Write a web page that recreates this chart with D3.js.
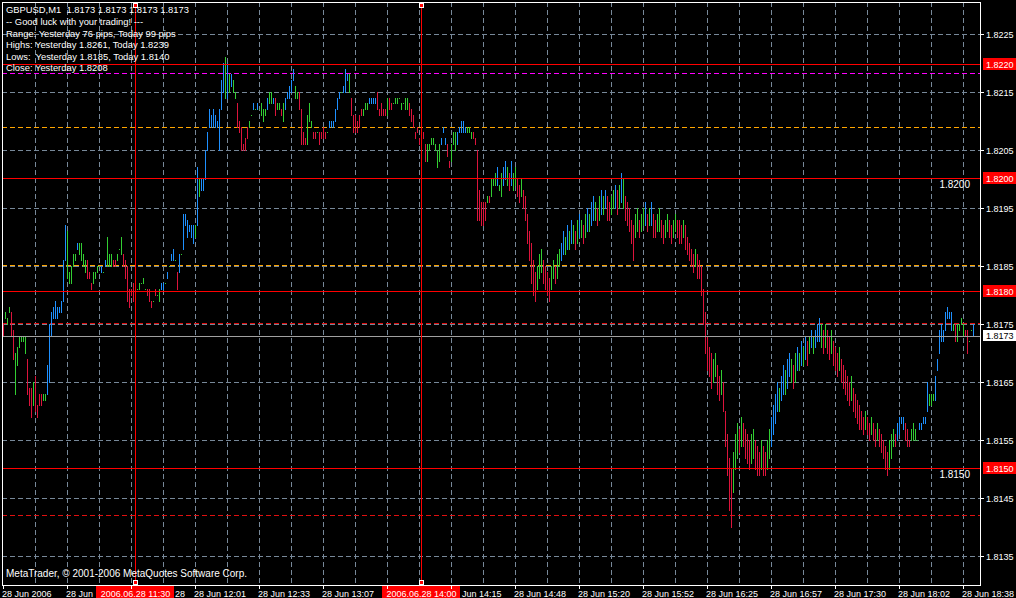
<!DOCTYPE html>
<html><head><meta charset="utf-8">
<script src="https://cdn.jsdelivr.net/npm/d3@7"></script>
<style>html,body{margin:0;padding:0;background:#000;overflow:hidden}svg{display:block}text{white-space:pre}</style>
</head><body>
<svg id="c" width="1016" height="598"></svg>
<script>
// ---------- DATA ----------
const symbolTitle = "GBPUSD,M1  1.8173 1.8173 1.8173 1.8173";
const infoLines = ["-- Good luck with your trading! ---","Range: Yesterday 76 pips, Today 99 pips","Highs: Yesterday 1.8261, Today 1.8239","Lows:  Yesterday 1.8185, Today 1.8140","Close: Yesterday 1.8208"];
const copyright = "MetaTrader, \u00A9 2001-2006 MetaQuotes Software Corp.";
const priceTicks = [1.8135,1.8145,1.8155,1.8165,1.8175,1.8185,1.8195,1.8205,1.8215,1.8225];
const timeTickIndex = [0,32,64,96,128,160,192,224,256,288,320,352,384,416,448,480];
// visible part of each time label (parts hidden by the red date boxes are left out)
const timeTickLabels = ["28 Jun 2006","28 Jun","28","28 Jun 12:01","28 Jun 12:33","28 Jun 13:07","","Jun 14:15","28 Jun 14:48","28 Jun 15:20","28 Jun 15:52","28 Jun 16:25","28 Jun 16:57","28 Jun 17:30","28 Jun 18:02","28 Jun 18:38"];
const timeTickAnchor = ["s","s","e","s","s","s","s","s2","s","s","s","s","s","s","s","s"];
const redLevels = [1.82198,1.82001,1.81807,1.81502];
const redLevelLabels = ["1.8220","1.8200","1.8180","1.8150"];
const redLevelText = [null,"1.8200",null,"1.8150"];
const magentaLevels = [1.82182];
const orangeLevels = [1.8209,1.81851];
const redDashLevels = [1.81751,1.81421];
const bidPrice = 1.8173;
const vLineIndex = [66,209];
const vLineLabels = ["2006.06.28 11:30","2006.06.28 14:00"];

const barHigh = [
1.8175,1.8177,1.8176,1.8178,1.8177,1.8174,1.8170,1.8171,1.8173,1.8173,
1.8173,1.8173,1.8169,1.8164,1.8164,1.8165,1.8166,1.8161,1.8163,1.8163,
1.8163,1.8163,1.8168,1.8175,1.8177,1.8178,1.8179,1.8178,1.8178,1.8179,
1.8186,1.8192,1.8191,1.8184,1.8185,1.8187,1.8187,1.8189,1.8189,1.8189,
1.8187,1.8186,1.8186,1.8184,1.8182,1.8184,1.8184,1.8185,1.8185,1.8185,
1.8184,1.8186,1.8190,1.8187,1.8187,1.8186,1.8186,1.8187,1.8188,1.8190,
1.8187,1.8186,1.8185,1.8181,1.8181,1.8182,1.8183,1.8181,1.8182,1.8182,
1.8183,1.8181,1.8181,1.8181,1.8179,1.8179,1.8181,1.8180,1.8181,1.8182,
1.8182,1.8182,1.8184,1.8185,1.8187,1.8188,1.8186,1.8184,1.8187,1.8187,
1.8194,1.8194,1.8193,1.8192,1.8192,1.8192,1.8192,1.8202,1.8200,1.8200,
1.8200,1.8205,1.8208,1.8212,1.8211,1.8212,1.8211,1.8210,1.8212,1.8217,
1.8220,1.8221,1.8220,1.8218,1.8218,1.8217,1.8215,1.8213,1.8210,1.8209,
1.8206,1.8207,1.8209,1.8210,1.8211,1.8213,1.8212,1.8213,1.8212,1.8213,
1.8212,1.8212,1.8214,1.8215,1.8215,1.8214,1.8214,1.8213,1.8213,1.8212,
1.8213,1.8214,1.8215,1.8216,1.8217,1.8219,1.8216,1.8215,1.8215,1.8212,
1.8208,1.8207,1.8211,1.8213,1.8210,1.8208,1.8208,1.8208,1.8208,1.8208,
1.8209,1.8208,1.8208,1.8210,1.8210,1.8210,1.8212,1.8214,1.8215,1.8215,
1.8216,1.8219,1.8218,1.8218,1.8214,1.8211,1.8211,1.8210,1.8211,1.8212,
1.8212,1.8213,1.8213,1.8214,1.8214,1.8214,1.8214,1.8215,1.8212,1.8213,
1.8212,1.8212,1.8214,1.8214,1.8213,1.8213,1.8214,1.8214,1.8214,1.8213,
1.8213,1.8214,1.8214,1.8213,1.8212,1.8211,1.8208,1.8209,1.8207,1.8208,
1.8208,1.8206,1.8206,1.8206,1.8207,1.8207,1.8206,1.8205,1.8206,1.8207,
1.8209,1.8207,1.8206,1.8203,1.8206,1.8208,1.8208,1.8208,1.8209,1.8210,
1.8210,1.8209,1.8209,1.8209,1.8208,1.8208,1.8207,1.8205,1.8198,1.8196,
1.8196,1.8196,1.8197,1.8197,1.8200,1.8200,1.8201,1.8202,1.8199,1.8201,
1.8202,1.8203,1.8202,1.8201,1.8203,1.8201,1.8202,1.8200,1.8199,1.8200,
1.8198,1.8197,1.8194,1.8191,1.8189,1.8186,1.8184,1.8185,1.8187,1.8188,
1.8186,1.8185,1.8184,1.8183,1.8185,1.8186,1.8185,1.8187,1.8188,1.8189,
1.8191,1.8190,1.8192,1.8191,1.8193,1.8192,1.8191,1.8193,1.8194,1.8193,
1.8192,1.8194,1.8195,1.8194,1.8196,1.8197,1.8196,1.8195,1.8197,1.8198,
1.8197,1.8198,1.8197,1.8196,1.8197,1.8198,1.8199,1.8198,1.8199,1.8201,
1.8200,1.8197,1.8196,1.8195,1.8193,1.8192,1.8194,1.8195,1.8193,1.8194,
1.8195,1.8196,1.8194,1.8195,1.8196,1.8194,1.8193,1.8194,1.8195,1.8193,
1.8192,1.8193,1.8194,1.8193,1.8192,1.8193,1.8194,1.8193,1.8193,1.8192,
1.8193,1.8192,1.8190,1.8189,1.8188,1.8187,1.8188,1.8187,1.8186,1.8185,
1.8181,1.8177,1.8173,1.8171,1.8170,1.8169,1.8170,1.8168,1.8166,1.8167,
1.8165,1.8160,1.8156,1.8152,1.8150,1.8153,1.8156,1.8158,1.8157,1.8159,
1.8158,1.8157,1.8156,1.8155,1.8156,1.8157,1.8155,1.8154,1.8153,1.8155,
1.8154,1.8153,1.8155,1.8157,1.8159,1.8161,1.8163,1.8165,1.8164,1.8166,
1.8168,1.8167,1.8169,1.8170,1.8169,1.8168,1.8170,1.8171,1.8170,1.8172,
1.8171,1.8173,1.8172,1.8173,1.8174,1.8173,1.8174,1.8175,1.8176,1.8175,
1.8174,1.8175,1.8174,1.8173,1.8174,1.8172,1.8171,1.8170,1.8171,1.8169,
1.8168,1.8167,1.8166,1.8165,1.8166,1.8164,1.8163,1.8162,1.8161,1.8160,
1.8159,1.8160,1.8159,1.8158,1.8159,1.8158,1.8157,1.8158,1.8157,1.8156,
1.8155,1.8154,1.8153,1.8155,1.8156,1.8157,1.8156,1.8158,1.8159,1.8159,
1.8159,1.8158,1.8157,1.8155,1.8157,1.8158,1.8157,1.8155,1.8158,1.8158,
1.8159,1.8159,1.8165,1.8163,1.8163,1.8163,1.8166,1.8169,1.8174,1.8175,
1.8174,1.8177,1.8178,1.8177,1.8177,1.8175,1.8175,1.8175,1.8175,1.8176,
1.8175,1.8174,1.8174,1.8172,1.8174,1.8175];

const barLow = [
1.8173,1.8176,1.8175,1.8177,1.8173,1.8169,1.8163,1.8168,1.8171,1.8172,
1.8172,1.8170,1.8163,1.8161,1.8159,1.8161,1.8160,1.8159,1.8161,1.8161,
1.8162,1.8162,1.8163,1.8165,1.8173,1.8176,1.8176,1.8176,1.8177,1.8177,
1.8179,1.8186,1.8183,1.8182,1.8182,1.8185,1.8186,1.8188,1.8187,1.8186,
1.8185,1.8184,1.8183,1.8183,1.8181,1.8182,1.8183,1.8184,1.8185,1.8184,
1.8184,1.8185,1.8185,1.8185,1.8185,1.8185,1.8185,1.8186,1.8188,1.8187,
1.8185,1.8183,1.8179,1.8178,1.8180,1.8179,1.8181,1.8181,1.8181,1.8182,
1.8182,1.8181,1.8180,1.8179,1.8178,1.8179,1.8180,1.8180,1.8179,1.8181,
1.8181,1.8182,1.8183,1.8185,1.8186,1.8186,1.8186,1.8181,1.8184,1.8187,
1.8188,1.8192,1.8190,1.8191,1.8190,1.8189,1.8190,1.8192,1.8197,1.8198,
1.8198,1.8200,1.8205,1.8209,1.8209,1.8209,1.8209,1.8209,1.8205,1.8212,
1.8215,1.8214,1.8214,1.8215,1.8216,1.8215,1.8214,1.8209,1.8208,1.8205,
1.8205,1.8205,1.8207,1.8209,1.8211,1.8212,1.8212,1.8212,1.8212,1.8211,
1.8210,1.8211,1.8212,1.8213,1.8213,1.8213,1.8211,1.8212,1.8212,1.8211,
1.8210,1.8212,1.8214,1.8214,1.8215,1.8217,1.8214,1.8214,1.8212,1.8206,
1.8206,1.8206,1.8206,1.8210,1.8209,1.8207,1.8207,1.8208,1.8206,1.8207,
1.8207,1.8207,1.8208,1.8209,1.8209,1.8209,1.8210,1.8212,1.8214,1.8215,
1.8215,1.8215,1.8217,1.8215,1.8211,1.8208,1.8208,1.8208,1.8209,1.8211,
1.8211,1.8212,1.8212,1.8213,1.8213,1.8213,1.8213,1.8212,1.8211,1.8211,
1.8211,1.8211,1.8211,1.8212,1.8212,1.8213,1.8213,1.8213,1.8214,1.8212,
1.8213,1.8212,1.8212,1.8211,1.8210,1.8209,1.8207,1.8208,1.8206,1.8206,
1.8207,1.8203,1.8203,1.8205,1.8206,1.8206,1.8205,1.8202,1.8203,1.8206,
1.8208,1.8206,1.8204,1.8202,1.8203,1.8206,1.8205,1.8206,1.8208,1.8208,
1.8208,1.8208,1.8208,1.8208,1.8207,1.8207,1.8206,1.8193,1.8193,1.8192,
1.8192,1.8193,1.8196,1.8196,1.8197,1.8199,1.8199,1.8199,1.8198,1.8197,
1.8199,1.8200,1.8199,1.8198,1.8199,1.8198,1.8199,1.8197,1.8196,1.8197,
1.8195,1.8193,1.8189,1.8186,1.8182,1.8180,1.8179,1.8181,1.8183,1.8184,
1.8182,1.8181,1.8180,1.8179,1.8181,1.8183,1.8182,1.8183,1.8185,1.8186,
1.8187,1.8187,1.8188,1.8188,1.8189,1.8189,1.8188,1.8189,1.8190,1.8190,
1.8189,1.8190,1.8191,1.8191,1.8192,1.8193,1.8193,1.8192,1.8193,1.8194,
1.8194,1.8195,1.8193,1.8193,1.8194,1.8195,1.8195,1.8194,1.8195,1.8196,
1.8195,1.8193,1.8192,1.8191,1.8189,1.8186,1.8190,1.8191,1.8190,1.8191,
1.8192,1.8192,1.8191,1.8192,1.8192,1.8190,1.8190,1.8191,1.8191,1.8190,
1.8189,1.8190,1.8191,1.8190,1.8189,1.8190,1.8191,1.8190,1.8189,1.8189,
1.8190,1.8188,1.8187,1.8186,1.8185,1.8184,1.8185,1.8183,1.8183,1.8180,
1.8175,1.8170,1.8167,1.8166,1.8164,1.8165,1.8166,1.8163,1.8162,1.8163,
1.8160,1.8154,1.8149,1.8143,1.8140,1.8146,1.8150,1.8152,1.8153,1.8154,
1.8154,1.8152,1.8151,1.8150,1.8151,1.8152,1.8150,1.8149,1.8149,1.8150,
1.8149,1.8149,1.8150,1.8152,1.8154,1.8156,1.8158,1.8160,1.8160,1.8162,
1.8163,1.8163,1.8164,1.8166,1.8165,1.8164,1.8165,1.8167,1.8167,1.8168,
1.8168,1.8169,1.8168,1.8170,1.8171,1.8170,1.8171,1.8172,1.8172,1.8171,
1.8170,1.8171,1.8170,1.8169,1.8170,1.8168,1.8167,1.8166,1.8167,1.8165,
1.8164,1.8163,1.8162,1.8161,1.8162,1.8160,1.8159,1.8158,1.8157,1.8157,
1.8156,1.8157,1.8156,1.8155,1.8156,1.8155,1.8154,1.8155,1.8154,1.8153,
1.8152,1.8150,1.8149,1.8150,1.8152,1.8154,1.8154,1.8155,1.8156,1.8158,
1.8157,1.8155,1.8154,1.8154,1.8155,1.8155,1.8155,1.8155,1.8157,1.8157,
1.8158,1.8158,1.8160,1.8161,1.8161,1.8162,1.8162,1.8167,1.8170,1.8172,
1.8172,1.8174,1.8176,1.8176,1.8174,1.8174,1.8172,1.8172,1.8174,1.8175,
1.8173,1.8173,1.8170,1.8172,1.8174,1.8173];

// bar colour class per bar: g = up, b = strong up, r = down
const barClass = (
"rgggrrgggg"+"ggrrrgrrrr"+"ggbbbbbbbb"+"bbgggggbgg"+"ggrrrggggb"+
"gbgggrrggg"+"rrrrrrrggg"+"ggrrrgrggb"+"bgbgbbgrbg"+"bbbbbbgbgb"+
"bbbbbbbbbb"+"bgbgbggrrr"+"rrrggbgbgg"+"ggbggbrggr"+"gbbbbbggrr"+
"rrgggrrgrr"+"rrgbbbbbbg"+"bbbgrrrrrr"+"gggbbbbrrr"+"rrgrrggggg"+
"gggrrrrrrr"+"rrgggggggb"+"bbrrgggbbb"+"bbgggrrrrr"+"rrgrgggbgg"+
"bbgrbggrrg"+"rrrrrrrggg"+"rrrrggrggb"+"bgbgbgrgbg"+"rgbgbbgrgb"+
"gbrrggbrgb"+"grrrrrggrg"+"gbrgbrrggr"+"rggrrggrrr"+"grrrrrgrrr"+
"rrrrrggrrg"+"rrrrrgggrg"+"rrrrggrrrg"+"rrggbbbbgb"+"bgbbgrgbgb"+
"gbrgbgbbbg"+"rgrrgrrrgr"+"rrrrgrrrrr"+"rgrrgrrgrr"+"rrrgggrbbb"+
"brrrggggbb"+"bbbgggbbbb"+"bbbbbgrggg"+"grrggb").split("");

// ---------- DRAW ----------
const W = 1016, H = 598;
const plotL = 2, plotT = 2, plotR = 980, plotB = 585;
const FONT = "'Liberation Sans', Arial, sans-serif";
const colorMap = {g:"#32CD32", b:"#1E90FF", r:"#DC143C"};

const svg = d3.select("#c").attr("shape-rendering","crispEdges");
svg.append("rect").attr("width",W).attr("height",H).attr("fill","#000");

const x = d3.scaleLinear().domain([0,488]).range([3,979]);
const y = d3.scaleLinear().domain([1.8135,1.8225]).range([556.3,33.7]);
const py = v => Math.round(y(v)) + 0.5;

// grid
const gGrid = svg.append("g").attr("stroke","#778899").attr("stroke-dasharray","5,3");
gGrid.selectAll("line.h").data(priceTicks).join("line")
  .attr("x1",plotL).attr("x2",plotR).attr("y1",py).attr("y2",py);
const vGrid = d3.range(16, 488, 16);
gGrid.selectAll("line.v").data(vGrid).join("line")
  .attr("x1",d=>Math.round(x(d))+0.5).attr("x2",d=>Math.round(x(d))+0.5)
  .attr("y1",plotT).attr("y2",plotB);

// dashed indicator levels
function dashLevels(levels,color){
  svg.append("g").selectAll("line").data(levels).join("line")
    .attr("x1",plotL).attr("x2",plotR).attr("y1",py).attr("y2",py)
    .attr("stroke",color).attr("stroke-dasharray","5,3");
}
dashLevels(magentaLevels,"#FF00FF");
dashLevels(orangeLevels,"#FFA500");
dashLevels(redDashLevels,"#E01010");

// bars
const bars = barHigh.map((h,i)=>({i,h,l:barLow[i],c:barClass[i]}));
svg.append("g").selectAll("rect").data(bars).join("rect")
  .attr("x",d=>Math.round(x(d.i)))
  .attr("y",d=>Math.round(y(d.h)))
  .attr("width",1)
  .attr("height",d=>Math.max(1,Math.round(y(d.l))-Math.round(y(d.h))+1))
  .attr("fill",d=>colorMap[d.c]);

// bid line
svg.append("line").attr("x1",plotL).attr("x2",plotR).attr("y1",py(bidPrice)).attr("y2",py(bidPrice))
  .attr("stroke","#A0A0A0");

// red solid levels
svg.append("g").selectAll("line").data(redLevels).join("line")
  .attr("x1",plotL).attr("x2",plotR).attr("y1",py).attr("y2",py).attr("stroke","#FF0000");
svg.append("g").selectAll("text").data(redLevels.map((v,k)=>({v,t:redLevelText[k]})).filter(d=>d.t)).join("text")
  .attr("x",970).attr("y",d=>Math.round(y(d.v))+10).attr("text-anchor","end")
  .attr("fill","#fff").attr("font-family",FONT).attr("font-size","10px").text(d=>d.t);

// vertical red lines with handles
const vl = svg.append("g");
vLineIndex.forEach(idx=>{
  const xx = Math.round(x(idx))+0.5;
  vl.append("line").attr("x1",xx).attr("x2",xx).attr("y1",plotT).attr("y2",plotB).attr("stroke","#FF0000");
  [3,580].forEach(yy=>vl.append("rect").attr("x",xx-2).attr("y",yy+0.5).attr("width",4).attr("height",4)
    .attr("fill","#FF0000").attr("stroke","#fff"));
});

// frame
svg.append("rect").attr("x",plotL+0.5).attr("y",plotT+0.5).attr("width",plotR-plotL).attr("height",plotB-plotT)
  .attr("fill","none").attr("stroke","#fff");

// right axis
const gy = svg.append("g");
gy.selectAll("line").data(priceTicks).join("line")
  .attr("x1",plotR).attr("x2",plotR+4).attr("y1",py).attr("y2",py).attr("stroke","#fff");
gy.selectAll("text").data(priceTicks).join("text")
  .attr("x",986).attr("y",d=>Math.round(y(d))+3.5)
  .attr("fill","#fff").attr("font-family",FONT).attr("font-size","9px").text(d=>d.toFixed(4));

// red price labels
redLevels.forEach((v,k)=>{
  const cy = Math.round(y(v));
  svg.append("rect").attr("x",983).attr("y",cy-6).attr("width",33).attr("height",12).attr("fill","#FF0000");
  svg.append("text").attr("x",986).attr("y",cy+3.5).attr("fill","#fff").attr("font-family",FONT)
    .attr("font-size","9px").text(redLevelLabels[k]);
});
// bid label
{
  const cy = Math.round(y(bidPrice));
  svg.append("rect").attr("x",983).attr("y",cy-6).attr("width",33).attr("height",11).attr("fill","#fff");
  svg.append("text").attr("x",986).attr("y",cy+3).attr("fill","#000").attr("font-family",FONT)
    .attr("font-size","9px").text(bidPrice.toFixed(4));
}

// vertical line date labels
vLineIndex.forEach((idx,k)=>{
  const xx = Math.round(x(idx));
  svg.append("rect").attr("x",xx-39).attr("y",586).attr("width",78).attr("height",12).attr("fill","#FF0000");
  svg.append("text").attr("x",xx+0.5).attr("y",596.5).attr("text-anchor","middle").attr("fill","#fff")
    .attr("font-family",FONT).attr("font-size","9px").text(vLineLabels[k]);
});

// bottom axis
const gx = svg.append("g");
gx.selectAll("line").data(timeTickIndex).join("line")
  .attr("x1",d=>Math.round(x(d))+0.5).attr("x2",d=>Math.round(x(d))+0.5)
  .attr("y1",plotB).attr("y2",plotB+4).attr("stroke","#fff");
gx.selectAll("text").data(timeTickIndex.filter((d,k)=>timeTickLabels[k])).join("text")
  .attr("x",d=>{const k=timeTickIndex.indexOf(d), a=timeTickAnchor[k], t=Math.round(x(d));
     return a==="e" ? t+54 : a==="s2" ? t+11 : t-1;})
  .attr("text-anchor",d=>timeTickAnchor[timeTickIndex.indexOf(d)]==="e"?"end":"start")
  .attr("y",596.5)
  .attr("fill","#fff").attr("font-family",FONT).attr("font-size","9px")
  .text(d=>timeTickLabels[timeTickIndex.indexOf(d)]);

// top-left info text
const info = [symbolTitle].concat(infoLines);
const baselines = [13.3,25,36.5,48,59.5,71];
svg.append("g").selectAll("text").data(info).join("text")
  .attr("x",6).attr("y",(d,k)=>baselines[k]).attr("fill","#fff")
  .attr("font-family",FONT).attr("font-size","9.4px").text(d=>d);

svg.append("text").attr("x",6).attr("y",576.5).attr("fill","#fff")
  .attr("font-family",FONT).attr("font-size","10px").text(copyright);
</script>
</body></html>
